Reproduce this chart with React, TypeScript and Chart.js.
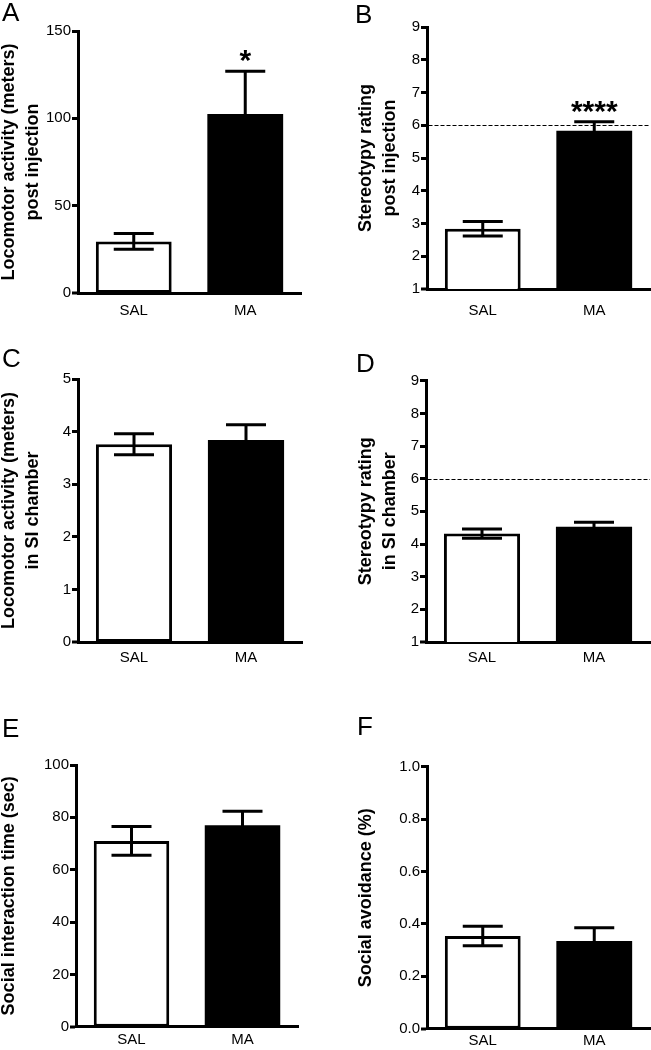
import React, { useEffect, useRef } from "react";
import { Chart, registerables } from "chart.js";

Chart.register(...registerables);

const FONT = '"Liberation Sans", Arial, Helvetica, sans-serif';

// ---- data ----
const groups = ["SAL", "MA"];
const barFills = ["#ffffff", "#000000"];
const barBorders = [3, 0];

const locoPostMean = [29.5, 102.5];
const locoPostSem = [4.5, 24.5];
const locoPostSig = ["", "*"];

const stereoPostMean = [2.84, 5.83];
const stereoPostSem = [0.22, 0.28];
const stereoPostSig = ["", "****"];

const locoSIMean = [3.76, 3.84];
const locoSISem = [0.2, 0.29];

const stereoSIMean = [4.32, 4.53];
const stereoSISem = [0.14, 0.14];

const socialTimeMean = [71, 77];
const socialTimeSem = [5.5, 5.3];

const avoidMean = [0.354, 0.335];
const avoidSem = [0.037, 0.05];

const stereotypyThreshold = 6;

const CAP_WIDTH = 40;

type Panel = {
  id: string;
  letter: string;
  box: { left: number; top: number; width: number; height: number };
  area: { l: number; t: number; r: number; b: number };
  title: string[];
  titleX: number;
  letterPos: [number, number];
  labelGap: number;
  mean: number[];
  sem: number[];
  sig?: string[];
  threshold?: number;
  min: number;
  max: number;
  step: number;
  decimals: number;
};

const panels: Panel[] = [
  {
    id: "A", letter: "A",
    box: { left: 0, top: 0, width: 320, height: 330 },
    area: { l: 78, t: 31, r: 301, b: 293 },
    title: ["Locomotor activity (meters)", "post injection"], titleX: 9.2,
    letterPos: [2, 21], labelGap: 8.4,
    mean: locoPostMean, sem: locoPostSem, sig: locoPostSig,
    min: 0, max: 150, step: 50, decimals: 0,
  },
  {
    id: "B", letter: "B",
    box: { left: 320, top: 0, width: 331, height: 330 },
    area: { l: 107, t: 27, r: 330, b: 289 },
    title: ["Stereotypy rating", "post injection"], titleX: 46.5,
    letterPos: [35, 23], labelGap: 12.4,
    mean: stereoPostMean, sem: stereoPostSem, sig: stereoPostSig, threshold: stereotypyThreshold,
    min: 1, max: 9, step: 1, decimals: 0,
  },
  {
    id: "C", letter: "C",
    box: { left: 0, top: 330, width: 320, height: 340 },
    area: { l: 78, t: 49, r: 302, b: 312 },
    title: ["Locomotor activity (meters)", "in SI chamber"], titleX: 9.2,
    letterPos: [2, 37], labelGap: 7.1,
    mean: locoSIMean, sem: locoSISem,
    min: 0, max: 5, step: 1, decimals: 0,
  },
  {
    id: "D", letter: "D",
    box: { left: 320, top: 330, width: 331, height: 340 },
    area: { l: 106, t: 50.7, r: 330, b: 312 },
    title: ["Stereotypy rating", "in SI chamber"], titleX: 46.5,
    letterPos: [36, 42], labelGap: 7.1,
    mean: stereoSIMean, sem: stereoSISem, threshold: stereotypyThreshold,
    min: 1, max: 9, step: 1, decimals: 0,
  },
  {
    id: "E", letter: "E",
    box: { left: 0, top: 680, width: 320, height: 370 },
    area: { l: 76, t: 85, r: 298, b: 346.7 },
    title: ["Social interaction time (sec)"], titleX: 9.2,
    letterPos: [2, 57], labelGap: 3.7,
    mean: socialTimeMean, sem: socialTimeSem,
    min: 0, max: 100, step: 20, decimals: 0,
  },
  {
    id: "F", letter: "F",
    box: { left: 320, top: 680, width: 331, height: 370 },
    area: { l: 107, t: 86.7, r: 330, b: 348.7 },
    title: ["Social avoidance (%)"], titleX: 45.8,
    letterPos: [37, 55], labelGap: 2.9,
    mean: avoidMean, sem: avoidSem,
    min: 0, max: 1, step: 0.2, decimals: 1,
  },
];

const TITLE_SIZE = 18;
const TITLE_LH = 1.3;

function makeExtras(p: Panel) {
  return {
    id: "extras" + p.id,
    afterDatasetsDraw(chart: any) {
      const { ctx, chartArea } = chart;
      const ys = chart.scales.y;
      const meta = chart.getDatasetMeta(0);
      ctx.save();
      if (p.threshold !== undefined) {
        const ty = Math.round(ys.getPixelForValue(p.threshold)) + 0.5;
        ctx.beginPath();
        ctx.setLineDash([4, 2]);
        ctx.lineWidth = 1.2;
        ctx.strokeStyle = "#000";
        ctx.moveTo(chartArea.left + 1.5, ty);
        ctx.lineTo(chartArea.right, ty);
        ctx.stroke();
        ctx.setLineDash([]);
      }
      ctx.lineWidth = 3;
      ctx.strokeStyle = "#000";
      ctx.lineCap = "butt";
      meta.data.forEach((el: any, i: number) => {
        const v = p.mean[i];
        const s = p.sem[i];
        const hi = ys.getPixelForValue(v + s);
        const lo = ys.getPixelForValue(v - s);
        const x = el.x;
        const hw = CAP_WIDTH / 2;
        ctx.beginPath();
        ctx.moveTo(x, lo);
        ctx.lineTo(x, hi);
        ctx.moveTo(x - hw, hi);
        ctx.lineTo(x + hw, hi);
        ctx.moveTo(x - hw, lo);
        ctx.lineTo(x + hw, lo);
        ctx.stroke();
        if (p.sig && p.sig[i]) {
          ctx.fillStyle = "#000";
          ctx.font = `bold 30px ${FONT}`;
          ctx.textAlign = "center";
          ctx.textBaseline = "alphabetic";
          ctx.fillText(p.sig[i], x, hi - 1);
        }
      });
      ctx.restore();
    },
    afterDraw(chart: any) {
      const ctx = chart.ctx;
      ctx.save();
      ctx.fillStyle = "#000";
      ctx.font = `26px ${FONT}`;
      ctx.textAlign = "left";
      ctx.textBaseline = "alphabetic";
      ctx.fillText(p.letter, p.letterPos[0], p.letterPos[1]);
      ctx.restore();
    },
  };
}

function buildConfig(p: Panel): any {
  const lh = TITLE_SIZE * TITLE_LH;
  const startX = p.titleX - lh / 2;
  const padLeft = Math.max(0, startX);
  const titlePadTop = startX - padLeft;
  const yWidth = p.area.l - padLeft;
  const xHeight = p.box.height - p.area.b;
  return {
    type: "bar",
    data: {
      labels: [...groups],
      datasets: [
        {
          data: [...p.mean],
          backgroundColor: [...barFills],
          borderColor: "#000",
          borderWidth: [...barBorders],
          borderSkipped: false,
          inflateAmount: 0,
          barPercentage: 0.68,
          categoryPercentage: 1,
        },
      ],
    },
    options: {
      responsive: false,
      animation: false,
      events: [],
      layout: {
        padding: { left: padLeft, top: p.area.t, right: p.box.width - p.area.r, bottom: 0 },
      },
      plugins: {
        legend: { display: false },
        tooltip: { enabled: false },
        title: { display: false },
      },
      scales: {
        x: {
          grid: { display: false, drawTicks: false, tickLength: 0 },
          border: { display: true, width: 3, color: "#000" },
          ticks: {
            color: "#000",
            font: { family: FONT, size: 15 },
            padding: p.labelGap,
            autoSkip: false,
            maxRotation: 0,
          },
          afterFit: (s: any) => {
            s.height = xHeight;
          },
        },
        y: {
          min: p.min,
          max: p.max,
          ticks: {
            stepSize: p.step,
            color: "#000",
            font: { family: FONT, size: 15 },
            padding: 1,
            callback: (v: any) => Number(v).toFixed(p.decimals),
          },
          grid: {
            drawOnChartArea: false,
            drawTicks: true,
            tickLength: 6,
            lineWidth: (c: any) => (c.tick && Math.abs(c.tick.value - p.min) < 1e-9 ? 0 : 3),
            tickWidth: 3,
            color: "#000",
            tickColor: "#000",
          },
          border: { display: true, width: 3, color: "#000" },
          title: {
            display: true,
            text: p.title,
            color: "#000",
            font: { family: FONT, size: TITLE_SIZE, weight: "bold", lineHeight: TITLE_LH },
            padding: { top: titlePadTop, bottom: 0 },
          },
          afterFit: (s: any) => {
            s.width = yWidth;
          },
        },
      },
    },
    plugins: [makeExtras(p)],
  };
}

export default function App() {
  const refs = useRef<(HTMLCanvasElement | null)[]>([]);

  useEffect(() => {
    const charts: Chart[] = [];
    panels.forEach((p, i) => {
      const c = refs.current[i];
      if (c) charts.push(new Chart(c, buildConfig(p)));
    });
    return () => {
      charts.forEach((ch) => ch.destroy());
    };
  }, []);

  return (
    <div
      style={{
        position: "absolute",
        left: 0,
        top: 0,
        width: 651,
        height: 1050,
        background: "#ffffff",
        overflow: "hidden",
      }}
    >
      {panels.map((p, i) => (
        <canvas
          key={p.id}
          ref={(el) => {
            refs.current[i] = el;
          }}
          width={p.box.width}
          height={p.box.height}
          style={{
            position: "absolute",
            left: p.box.left,
            top: p.box.top,
            width: p.box.width,
            height: p.box.height,
          }}
        />
      ))}
    </div>
  );
}
